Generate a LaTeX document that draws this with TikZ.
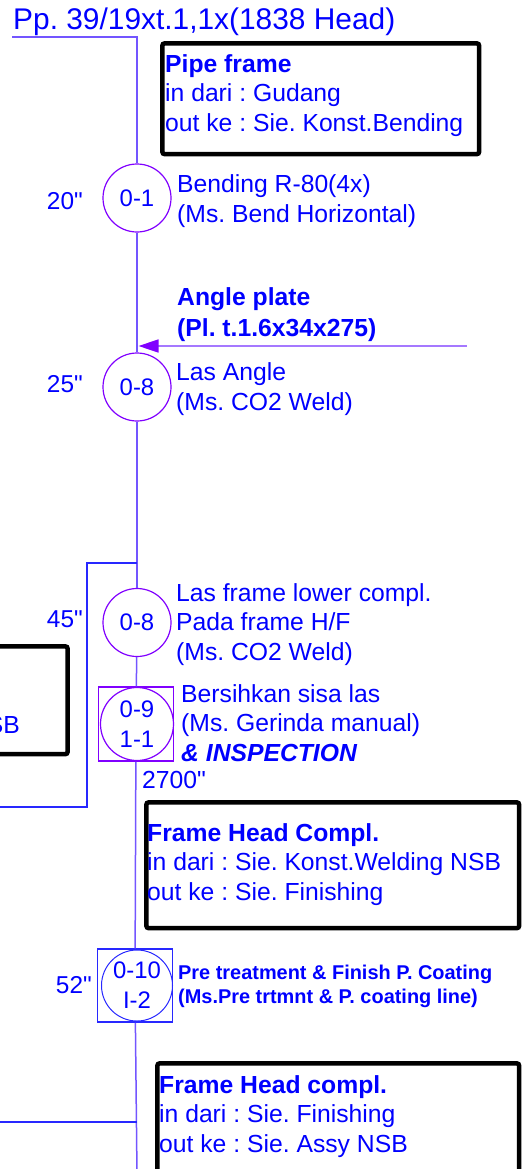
\documentclass[tikz,border=0pt]{standalone}
\usepackage{fontspec}
\setmainfont{Liberation Sans}
\newfontfamily\lib{Liberation Sans}
\usetikzlibrary{arrows.meta,shapes.geometric}
\definecolor{txtblue}{RGB}{0,0,255}
\definecolor{vio}{RGB}{128,0,255}
\definecolor{flow}{RGB}{115,85,255}
\definecolor{arrowvio}{RGB}{165,120,255}
\definecolor{loopblue}{RGB}{40,40,255}
\tikzset{
  lbl/.style={anchor=base west, inner sep=0, align=left, text=txtblue, font=\lib\frenchspacing\fontsize{24.8}{29.5}\selectfont},
  blbl/.style={lbl, font=\lib\frenchspacing\fontsize{24.8}{30.5}\selectfont\bfseries},
  slbl/.style={lbl, font=\lib\frenchspacing\fontsize{20}{24}\selectfont\bfseries},
  timelbl/.style={anchor=base east, inner sep=0, text=txtblue, font=\lib\fontsize{24.5}{29.5}\selectfont},
  opc/.style={circle, draw=vio, line width=1.2bp, minimum size=68bp, inner sep=0, text=txtblue, font=\lib\fontsize{24}{30}\selectfont, align=center},
  opsq/.style={rectangle, line width=1.5bp, inner sep=0},
  infobox/.style={rectangle, draw=black, line width=4.5bp, rounded corners=2bp, anchor=north west, inner sep=0},
  flowline/.style={draw=flow, line width=1.5bp},
  loopline/.style={draw=loopblue, line width=1.3bp},
}
\begin{document}
\begin{tikzpicture}[x=1bp,y=-1bp]
\useasboundingbox (0,0) rectangle (529,1169);
\clip (0,0) rectangle (529,1169);

% title
\node[anchor=base west, inner sep=0, text=txtblue, font=\lib\frenchspacing\fontsize{30}{36}\selectfont] (title) at (13,29.5) {Pp. 39/19xt.1,1x(1838 Head)};
\coordinate (tl) at (12,37);
\coordinate (top) at (137,37);
\coordinate (bot) at (137,1175);

% info boxes
\node[infobox, minimum width=316.6bp, minimum height=110.6bp] (box1) at (160.2,41.2) {};
\node[lbl] (box1t) at (165,131) {\textbf{Pipe frame}\\in dari : Gudang\\out ke : Sie. Konst.Bending};

\node[infobox, anchor=north east, minimum width=300bp, minimum height=107.6bp] (box0) at (69.8,644.2) {};
\node[lbl, anchor=base east] (box0t) at (20,733) {SB};

\node[infobox, minimum width=372.6bp, minimum height=125.6bp] (box2) at (144.2,800.2) {};
\node[lbl] (box2t) at (147,900) {\textbf{Frame Head Compl.}\\in dari : Sie. Konst.Welding NSB\\out ke : Sie. Finishing};

\node[infobox, minimum width=361.6bp, minimum height=150bp] (box3) at (155.2,1061.2) {};
\node[lbl] (box3t) at (159,1152) {\textbf{Frame Head compl.}\\in dari : Sie. Finishing\\out ke : Sie. Assy NSB};

% operations
\node[opc] (c01) at (137,198) {0-1};
\node[timelbl] (t01) at (83,209) {20"};
\node[lbl] (l01) at (177,222) {Bending R-80(4x)\\(Ms. Bend Horizontal)};

\node[blbl] (angle) at (177,336) {Angle plate\\(Pl. t.1.6x34x275)};
\coordinate (ain) at (467,346);
\coordinate (atip) at (138.5,346);

\node[opc] (c08a) at (137,387) {0-8};
\node[timelbl] (t08a) at (83,392.5) {25"};
\node[lbl] (l08a) at (176,410) {Las Angle\\(Ms. CO2 Weld)};

\node[opc] (c08b) at (137,622.5) {0-8};
\node[timelbl] (t08b) at (83,627.5) {45"};
\node[lbl] (l08b) at (176,660) {Las frame lower compl.\\Pada frame H/F\\(Ms. CO2 Weld)};

\node[opsq, draw=vio, minimum width=75bp, minimum height=74bp] (sq09) at (136,724) {};
\node[opc, minimum size=73bp] (c09) at (137,724) {0-9\\1-1};
\node[lbl] (l09) at (181,761) {Bersihkan sisa las\\(Ms. Gerinda manual)\\\textbf{\itshape \& INSPECTION}};
\node[lbl] (t09) at (142,788) {2700"};

\node[opsq, draw=loopblue, minimum width=75bp, minimum height=73bp] (sq10) at (135,985.5) {};
\node[opc, draw=loopblue, line width=1bp, minimum size=71bp] (c10) at (137,985.5) {0-10\\I-2};
\node[timelbl] (t10) at (92,993) {52"};
\node[slbl] (l10) at (178,1003) {Pre treatment \& Finish P. Coating\\(Ms.Pre trtmnt \& P. coating line)};

% main flow line
\draw[flowline] (tl) -- (top) -- (c01);
\draw[flowline] (c01) -- (c08a);
\draw[flowline] (c08a) -- (c08b);
\draw[flowline] (c08b) -- (sq09);
\draw[flowline] (sq09) -- (sq10);
\draw[flowline] (sq10) -- (bot);

% incoming material arrow
\draw[draw=arrowvio, line width=1.5bp, -{Triangle[length=20bp,width=13bp,color=vio]}] (ain) -- (atip);

% side branches
\coordinate (j1) at (137,563);
\coordinate (lf1) at (-5,807);
\draw[loopline] (j1) -- (87,563) -- (87,807) -- (lf1);
\coordinate (j2) at (137,1122);
\coordinate (lf2) at (-5,1122);
\draw[loopline] (j2) -- (lf2);
\end{tikzpicture}
\end{document}
